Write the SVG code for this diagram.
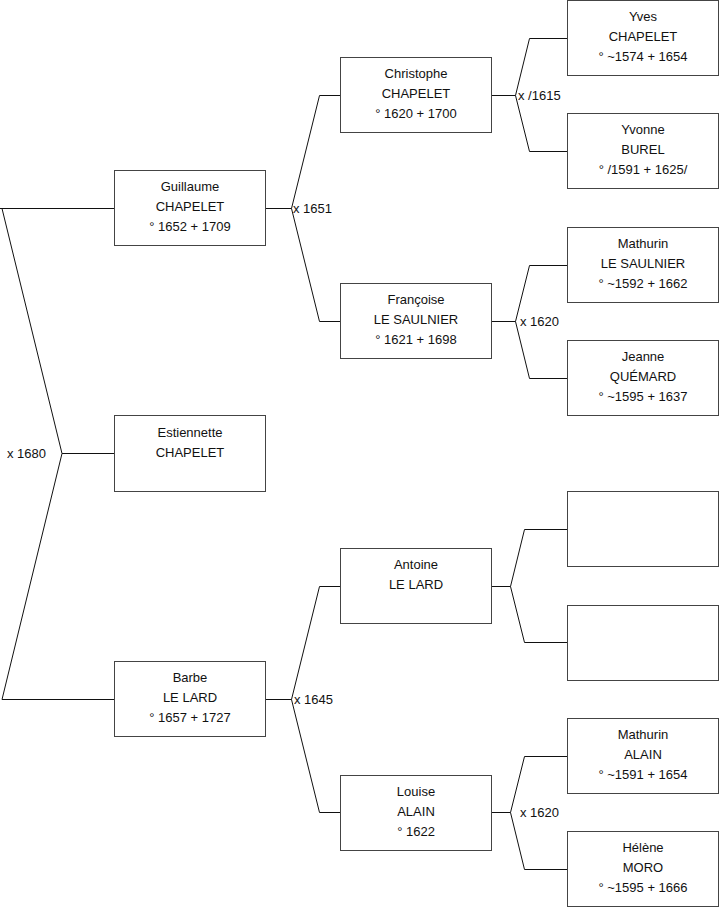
<svg xmlns="http://www.w3.org/2000/svg" width="719" height="908" viewBox="0 0 719 908">
<style>
rect.box{fill:#fff;stroke:#444;stroke-width:1}
text{font-family:"Liberation Sans",Arial,sans-serif;font-size:13px;fill:#111}
text.c{text-anchor:middle}
.con path{fill:none;stroke:#111;stroke-width:1}
</style>
<rect width="719" height="908" fill="#fff"/>
<g class="con" id="connectors">
<path d="M0,208.5 H114.5 M2,208.5 L62,453.5 L2,699.5 M62,453.5 H114.5 M2,699.5 H114.5"/>
<path d="M265.5,208.5 H291.5 M319.5,95.5 L291.5,208.5 L319.5,321.5 M319.5,95.5 H340.5 M319.5,321.5 H340.5"/>
<path d="M265.5,699.5 H291.5 M319.5,586.5 L291.5,699.5 L319.5,812.5 M319.5,586.5 H340.5 M319.5,812.5 H340.5"/>
<path d="M491.5,95.5 H515.5 M529.5,38.5 L515.5,95.5 L529.5,151.5 M529.5,38.5 H567.5 M529.5,151.5 H567.5"/>
<path d="M491.5,321.5 H515.5 M529.5,265.5 L515.5,321.5 L529.5,378.5 M529.5,265.5 H567.5 M529.5,378.5 H567.5"/>
<path d="M491.5,586.5 H510.5 M524.5,529.5 L510.5,586.5 L524.5,642.5 M524.5,529.5 H567.5 M524.5,642.5 H567.5"/>
<path d="M491.5,812.5 H510.5 M524.5,756.5 L510.5,812.5 L524.5,869.5 M524.5,756.5 H567.5 M524.5,869.5 H567.5"/>
<text x="7" y="458">x 1680</text>
<text x="293" y="212.5">x 1651</text>
<text x="294" y="703.5">x 1645</text>
<text x="518" y="99.5">x /1615</text>
<text x="520" y="325.5">x 1620</text>
<text x="520" y="816.5">x 1620</text>
</g>
<g id="guillaume"><rect class="box" x="114.5" y="170.5" width="151" height="75"/>
<text class="c" x="190" y="191">Guillaume</text><text class="c" x="190" y="211">CHAPELET</text><text class="c" x="190" y="231">° 1652 + 1709</text></g>
<g id="estiennette"><rect class="box" x="114.5" y="415.5" width="151" height="76"/>
<text class="c" x="190" y="437">Estiennette</text><text class="c" x="190" y="457">CHAPELET</text></g>
<g id="barbe"><rect class="box" x="114.5" y="661.5" width="151" height="75"/>
<text class="c" x="190" y="682">Barbe</text><text class="c" x="190" y="702">LE LARD</text><text class="c" x="190" y="722">° 1657 + 1727</text></g>
<g id="christophe"><rect class="box" x="340.5" y="57.5" width="151" height="75"/>
<text class="c" x="416" y="78">Christophe</text><text class="c" x="416" y="98">CHAPELET</text><text class="c" x="416" y="118">° 1620 + 1700</text></g>
<g id="francoise"><rect class="box" x="340.5" y="283.5" width="151" height="75"/>
<text class="c" x="416" y="304">Françoise</text><text class="c" x="416" y="324">LE SAULNIER</text><text class="c" x="416" y="344">° 1621 + 1698</text></g>
<g id="antoine"><rect class="box" x="340.5" y="548.5" width="151" height="75"/>
<text class="c" x="416" y="569">Antoine</text><text class="c" x="416" y="589">LE LARD</text></g>
<g id="louise"><rect class="box" x="340.5" y="775.5" width="151" height="75"/>
<text class="c" x="416" y="796">Louise</text><text class="c" x="416" y="816">ALAIN</text><text class="c" x="416" y="836">° 1622</text></g>
<g id="yves"><rect class="box" x="567.5" y="0.5" width="151" height="75"/>
<text class="c" x="643" y="21">Yves</text><text class="c" x="643" y="41">CHAPELET</text><text class="c" x="643" y="61">° ~1574 + 1654</text></g>
<g id="yvonne"><rect class="box" x="567.5" y="113.5" width="151" height="75"/>
<text class="c" x="643" y="134">Yvonne</text><text class="c" x="643" y="154">BUREL</text><text class="c" x="643" y="174">° /1591 + 1625/</text></g>
<g id="mathurin-ls"><rect class="box" x="567.5" y="227.5" width="151" height="75"/>
<text class="c" x="643" y="248">Mathurin</text><text class="c" x="643" y="268">LE SAULNIER</text><text class="c" x="643" y="288">° ~1592 + 1662</text></g>
<g id="jeanne"><rect class="box" x="567.5" y="340.5" width="151" height="75"/>
<text class="c" x="643" y="361">Jeanne</text><text class="c" x="643" y="381">QUÉMARD</text><text class="c" x="643" y="401">° ~1595 + 1637</text></g>
<g id="empty1"><rect class="box" x="567.5" y="491.5" width="151" height="75"/></g>
<g id="empty2"><rect class="box" x="567.5" y="605.5" width="151" height="75"/></g>
<g id="mathurin-a"><rect class="box" x="567.5" y="718.5" width="151" height="75"/>
<text class="c" x="643" y="739">Mathurin</text><text class="c" x="643" y="759">ALAIN</text><text class="c" x="643" y="779">° ~1591 + 1654</text></g>
<g id="helene"><rect class="box" x="567.5" y="831.5" width="151" height="75"/>
<text class="c" x="643" y="852">Hélène</text><text class="c" x="643" y="872">MORO</text><text class="c" x="643" y="892">° ~1595 + 1666</text></g>
</svg>
